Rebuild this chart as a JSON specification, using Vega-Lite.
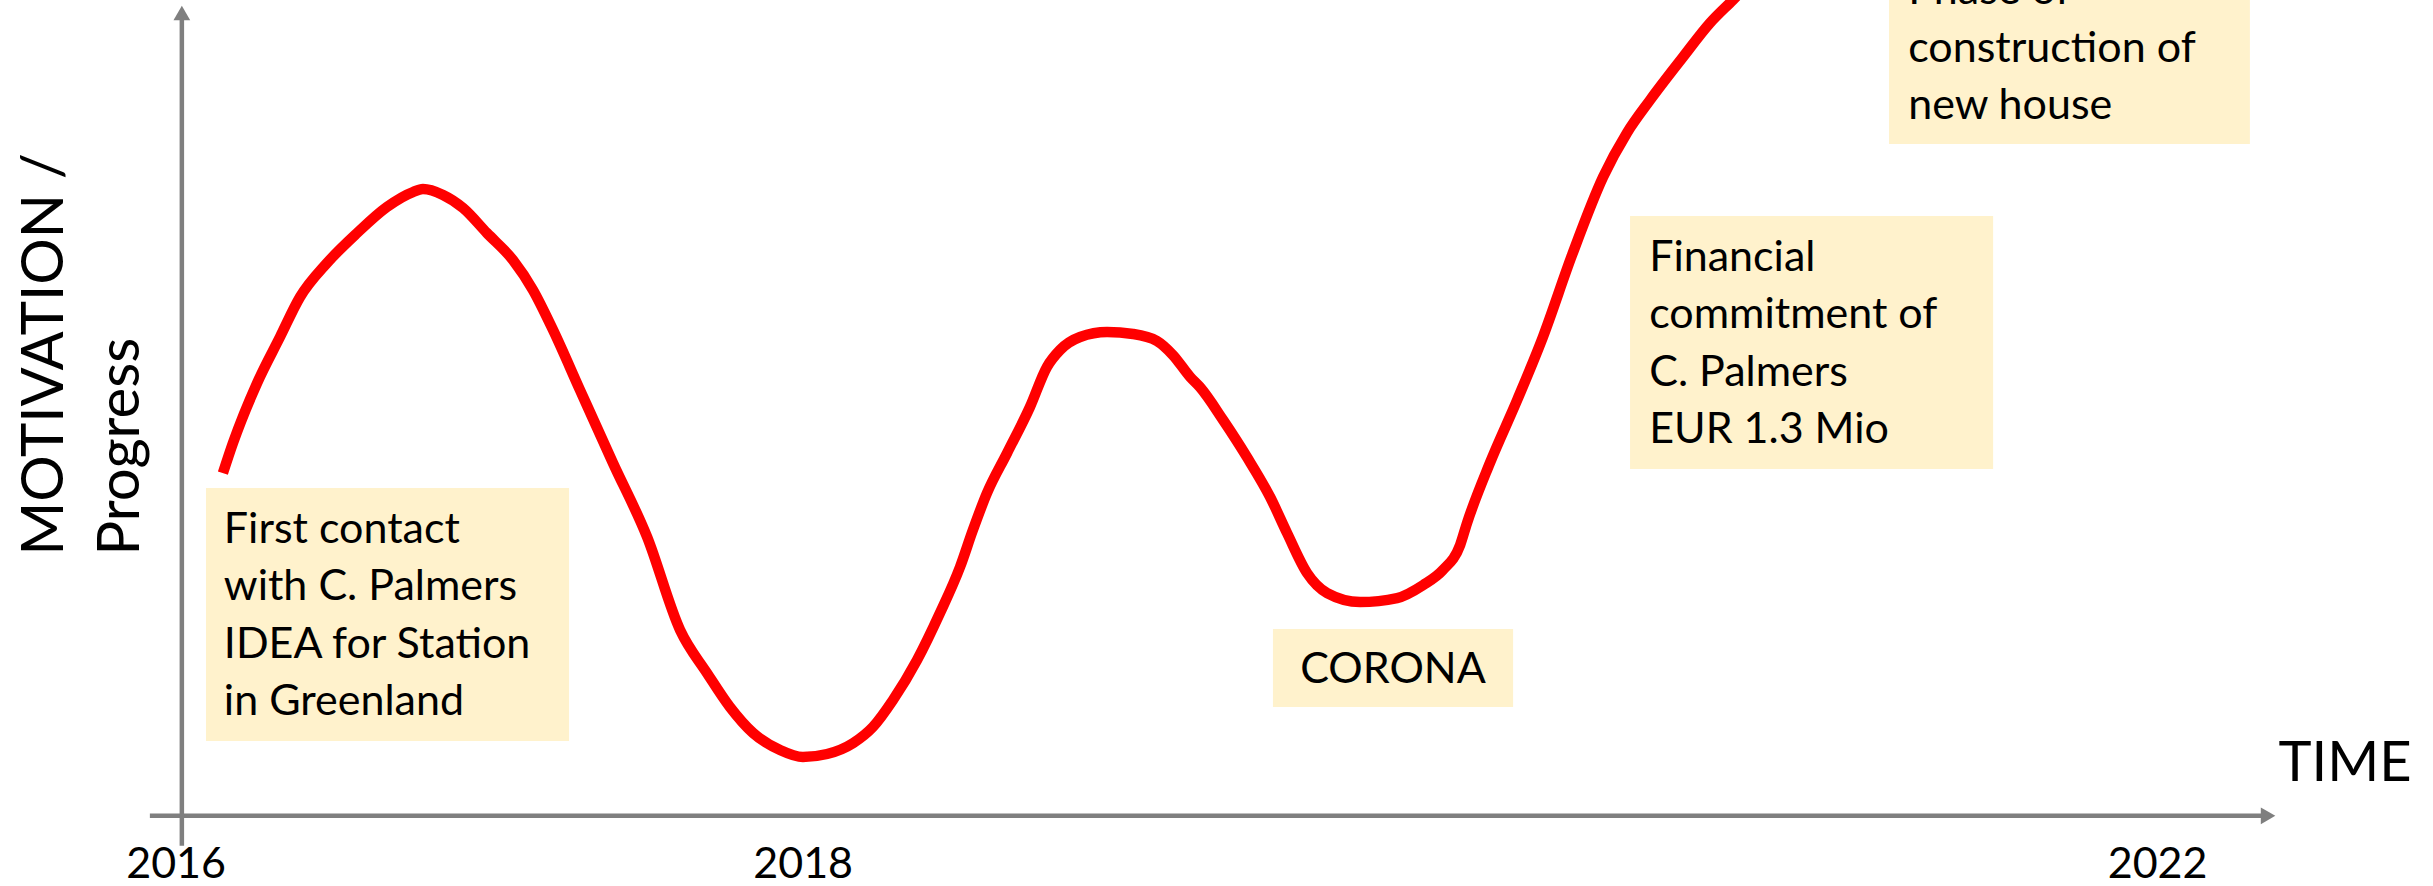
{
  "$schema": "https://vega.github.io/schema/vega-lite/v6.json",
  "width": 2433,
  "height": 886,
  "autosize": {"type": "none"},
  "padding": 0,
  "background": "white",
  "config": {"view": {"stroke": null}, "font": "Lato"},
  "datasets": {
    "curve": [
      {"year": 2016.151, "level": 42.02},
      {"year": 2016.183, "level": 45.70},
      {"year": 2016.260, "level": 53.05},
      {"year": 2016.333, "level": 58.69},
      {"year": 2016.397, "level": 63.59},
      {"year": 2016.483, "level": 67.76},
      {"year": 2016.579, "level": 71.44},
      {"year": 2016.674, "level": 74.63},
      {"year": 2016.757, "level": 76.46},
      {"year": 2016.789, "level": 76.83},
      {"year": 2016.853, "level": 76.10},
      {"year": 2016.917, "level": 74.50},
      {"year": 2016.993, "level": 71.44},
      {"year": 2017.076, "level": 68.13},
      {"year": 2017.140, "level": 64.45},
      {"year": 2017.204, "level": 59.55},
      {"year": 2017.290, "level": 52.19},
      {"year": 2017.395, "level": 43.25},
      {"year": 2017.504, "level": 34.17},
      {"year": 2017.609, "level": 22.78},
      {"year": 2017.695, "level": 17.50},
      {"year": 2017.768, "level": 13.34},
      {"year": 2017.842, "level": 10.15},
      {"year": 2017.928, "level": 8.07},
      {"year": 2018.001, "level": 7.21},
      {"year": 2018.078, "level": 7.58},
      {"year": 2018.161, "level": 8.92},
      {"year": 2018.224, "level": 10.89},
      {"year": 2018.288, "level": 14.19},
      {"year": 2018.365, "level": 19.10},
      {"year": 2018.438, "level": 24.86},
      {"year": 2018.502, "level": 30.50},
      {"year": 2018.543, "level": 35.03},
      {"year": 2018.588, "level": 39.57},
      {"year": 2018.652, "level": 44.47},
      {"year": 2018.725, "level": 50.11},
      {"year": 2018.779, "level": 55.01},
      {"year": 2018.821, "level": 57.10},
      {"year": 2018.885, "level": 58.69},
      {"year": 2018.971, "level": 59.30},
      {"year": 2019.054, "level": 59.06},
      {"year": 2019.130, "level": 58.20},
      {"year": 2019.181, "level": 56.48},
      {"year": 2019.236, "level": 53.79},
      {"year": 2019.267, "level": 52.56},
      {"year": 2019.341, "level": 48.52},
      {"year": 2019.417, "level": 43.98},
      {"year": 2019.491, "level": 39.08},
      {"year": 2019.545, "level": 34.67},
      {"year": 2019.609, "level": 29.76},
      {"year": 2019.673, "level": 27.31},
      {"year": 2019.778, "level": 26.21},
      {"year": 2019.896, "level": 26.70},
      {"year": 2019.979, "level": 28.29},
      {"year": 2020.042, "level": 30.13},
      {"year": 2020.097, "level": 33.19},
      {"year": 2020.119, "level": 35.89},
      {"year": 2020.192, "level": 43.25},
      {"year": 2020.279, "level": 50.97},
      {"year": 2020.361, "level": 58.69},
      {"year": 2020.454, "level": 68.74},
      {"year": 2020.553, "level": 78.30},
      {"year": 2020.629, "level": 83.70},
      {"year": 2020.703, "level": 87.74},
      {"year": 2020.808, "level": 93.01},
      {"year": 2020.894, "level": 97.18},
      {"year": 2020.967, "level": 100.0},
      {"year": 2021.054, "level": 103.43}
    ],
    "axes": [
      {"year": 2015.918, "year2": 2022.66, "level": 0, "level2": 0},
      {"year": 2016.02, "year2": 2016.02, "level": -3.67, "level2": 97.6}
    ],
    "arrows": [
      {"year": 2016.02, "level": 98.41, "dir": "up"},
      {"year": 2022.674, "level": 0, "dir": "right"}
    ],
    "boxes": [
      {"year": 2016.097, "year2": 2017.255, "level": 40.18, "level2": 9.17},
      {"year": 2019.5, "year2": 2020.266, "level": 22.9, "level2": 13.34},
      {"year": 2020.639, "year2": 2021.797, "level": 73.52, "level2": 42.51},
      {"year": 2021.465, "year2": 2022.616, "level": 110, "level2": 82.35}
    ],
    "notes": [
      {"year": 2016.154, "level": 33.44, "note": "First contact\nwith C. Palmers\nIDEA for Station\nin Greenland"},
      {"year": 2020.7, "level": 66.78, "note": "Financial\ncommitment of\nC. Palmers\nEUR 1.3 Mio"},
      {"year": 2021.526, "level": 99.45, "note": "Phase of\nconstruction of\nnew house"}
    ],
    "centered": [
      {"year": 2019.883, "level": 16.28, "note": "CORONA"}
    ]
  },
  "encoding": {
    "x": {
      "field": "year",
      "type": "quantitative",
      "scale": {"domain": [2015.44, 2023.2], "nice": false, "zero": false},
      "axis": {
        "orient": "bottom",
        "offset": -70.2,
        "values": [2016, 2018, 2022.32],
        "labelExpr": "'' + floor(datum.value)",
        "domain": false,
        "ticks": false,
        "tickSize": 0,
        "grid": false,
        "labelPadding": 28,
        "labelFontSize": 43,
        "labelFont": "Lato",
        "labelColor": "#000000",
        "labelFlush": false,
        "labelOverlap": false,
        "title": "TIME",
        "titleX": 2278,
        "titleY": -35.8,
        "titleAlign": "left",
        "titleBaseline": "alphabetic",
        "titleFontSize": 56,
        "titleFontWeight": "normal",
        "titleFont": "Lato",
        "titleColor": "#000000"
      }
    },
    "y": {
      "field": "level",
      "type": "quantitative",
      "scale": {"domain": [-8.6, 100], "nice": false, "zero": false},
      "axis": {
        "orient": "left",
        "offset": -181.7,
        "domain": false,
        "ticks": false,
        "labels": false,
        "grid": false,
        "title": ["MOTIVATION /", "Progress"],
        "titleX": -119.7,
        "titleY": 555,
        "titleAngle": 270,
        "titleAlign": "left",
        "titleBaseline": "alphabetic",
        "titleFontSize": 58,
        "titleLineHeight": 76,
        "titleFontWeight": "normal",
        "titleFont": "Lato",
        "titleColor": "#000000"
      }
    }
  },
  "layer": [
    {
      "data": {"name": "boxes"},
      "mark": {"type": "rect", "color": "#FFF2CC", "opacity": 1},
      "encoding": {"x2": {"field": "year2"}, "y2": {"field": "level2"}}
    },
    {
      "data": {"name": "axes"},
      "mark": {"type": "rule", "color": "#7F7F7F", "strokeWidth": 4.5},
      "encoding": {"x2": {"field": "year2"}, "y2": {"field": "level2"}}
    },
    {
      "data": {"name": "arrows"},
      "mark": {"type": "point", "filled": true, "color": "#7F7F7F", "size": 280, "opacity": 1},
      "encoding": {
        "shape": {
          "field": "dir",
          "type": "nominal",
          "scale": {"domain": ["up", "right"], "range": ["triangle-up", "triangle-right"]},
          "legend": null
        }
      }
    },
    {
      "data": {"name": "curve"},
      "mark": {"type": "line", "color": "#FF0000", "strokeWidth": 10.5, "interpolate": "monotone", "strokeCap": "butt"},
      "encoding": {}
    },
    {
      "data": {"name": "notes"},
      "mark": {"type": "text", "align": "left", "baseline": "alphabetic", "fontSize": 43, "font": "Lato", "lineHeight": 57.3, "lineBreak": "\n", "color": "#000000"},
      "encoding": {"text": {"field": "note"}}
    },
    {
      "data": {"name": "centered"},
      "mark": {"type": "text", "align": "center", "baseline": "alphabetic", "fontSize": 43, "font": "Lato", "color": "#000000"},
      "encoding": {"text": {"field": "note"}}
    }
  ]
}
